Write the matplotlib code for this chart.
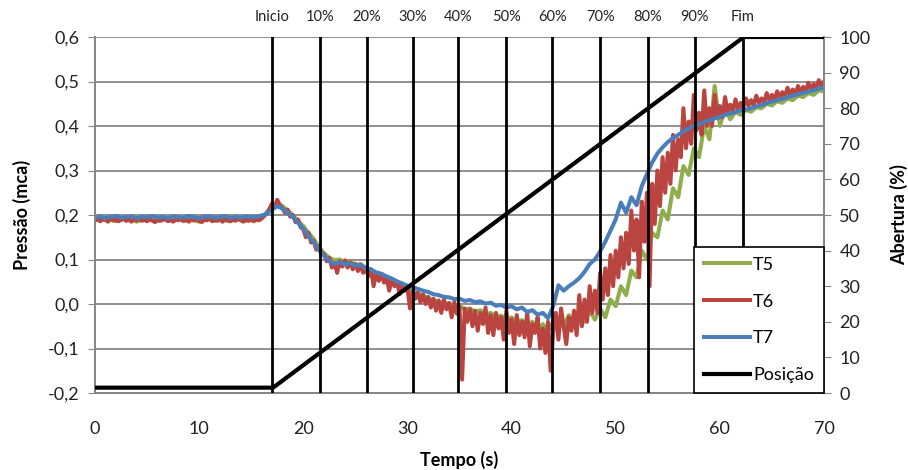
import numpy as np
import matplotlib
matplotlib.use("Agg")
import matplotlib.pyplot as plt
import matplotlib.transforms as mtransforms

plt.rcParams['font.family'] = ['Lato', 'DejaVu Sans']

# ---------------- data ----------------
# T5 and T7 sampled every 0.5 s (0..70 s), T6 every 0.25 s
T5 = [
    0.190, 0.187, 0.192, 0.189, 0.186, 0.191, 0.188, 0.190, 0.185, 0.189,   # 0-4.5
    0.192, 0.188, 0.186, 0.190, 0.189, 0.187, 0.191, 0.186, 0.190, 0.188,   # 5-9.5
    0.185, 0.189, 0.191, 0.187, 0.190, 0.188, 0.186, 0.192, 0.189, 0.187,   # 10-14.5
    0.190, 0.188, 0.193, 0.204,                                             # 15-16.5
    0.218, 0.226, 0.220, 0.210, 0.200, 0.186, 0.175, 0.160, 0.146, 0.128,   # 17-21.5
    0.114, 0.104, 0.098, 0.100, 0.094, 0.096, 0.088, 0.090, 0.080, 0.076,   # 22-26.5
    0.070, 0.064, 0.058, 0.050, 0.046, 0.038, 0.034, 0.028, 0.024, 0.018,   # 27-31.5
    0.014, 0.008, 0.006, 0.000, 0.002, -0.006, -0.004, -0.012, -0.010, -0.018,  # 32-36.5
    -0.014, -0.024, -0.020, -0.030, -0.026, -0.036, -0.030, -0.042, -0.036, -0.048,  # 37-41.5
    -0.040, -0.056, -0.045, -0.062, -0.040, -0.030, -0.050, -0.025, -0.045, -0.020,  # 42-46.5
    -0.040, -0.015, -0.035, -0.010, -0.030, 0.010, -0.005, 0.040, 0.020, 0.075,     # 47-51.5
    0.060, 0.120, 0.100, 0.160, 0.150, 0.210, 0.190, 0.260, 0.240, 0.310,   # 52-56.5
    0.290, 0.350, 0.330, 0.400, 0.370, 0.490, 0.400, 0.440, 0.415, 0.432,   # 57-61.5
    0.425, 0.436, 0.432, 0.442, 0.440, 0.450, 0.446, 0.456, 0.452, 0.462,   # 62-66.5
    0.458, 0.468, 0.465, 0.474, 0.470, 0.480, 0.478,                        # 67-70
]

T6 = [
    0.188, 0.192, 0.186, 0.191, 0.189, 0.185, 0.192, 0.188,   # 0-1.75
    0.190, 0.186, 0.189, 0.193, 0.187, 0.190, 0.185, 0.191,   # 2-3.75
    0.188, 0.192, 0.187, 0.189, 0.186, 0.190, 0.188, 0.184,   # 4-5.75
    0.191, 0.187, 0.189, 0.192, 0.186, 0.189, 0.185, 0.190,   # 6-7.75
    0.188, 0.193, 0.187, 0.189, 0.185, 0.190, 0.188, 0.191,   # 8-9.75
    0.187, 0.184, 0.190, 0.188, 0.192, 0.186, 0.189, 0.187,   # 10-11.75
    0.190, 0.185, 0.191, 0.188, 0.186, 0.190, 0.187, 0.192,   # 12-13.75
    0.188, 0.185, 0.190, 0.187, 0.189, 0.186, 0.191, 0.188,   # 14-15.75
    0.192, 0.198, 0.205, 0.214, 0.226, 0.218, 0.234, 0.222,   # 16-17.75
    0.215, 0.205, 0.212, 0.196, 0.200, 0.184, 0.190, 0.172,   # 18-19.75
    0.168, 0.150, 0.160, 0.138, 0.142, 0.122, 0.130, 0.110,   # 20-21.75
    0.112, 0.096, 0.104, 0.082, 0.092, 0.070, 0.096, 0.084,   # 22-23.75
    0.098, 0.082, 0.094, 0.078, 0.090, 0.074, 0.088, 0.070,   # 24-25.75
    0.082, 0.062, 0.078, 0.040, 0.070, 0.052, 0.066, 0.048,   # 26-27.75
    0.060, 0.030, 0.056, 0.040, 0.050, 0.022, 0.046, 0.030,   # 28-29.75
    0.036, -0.010, 0.030, 0.012, 0.026, 0.004, 0.022, 0.000,  # 30-31.75
    0.016, -0.008, 0.012, -0.015, 0.008, -0.020, 0.010, -0.012,  # 32-33.75
    0.002, -0.030, 0.004, -0.022, -0.005, -0.170, -0.010, -0.040,  # 34-35.75
    -0.012, -0.050, -0.015, -0.060, -0.020, -0.045, -0.008, -0.065,  # 36-37.75
    -0.025, -0.070, -0.020, -0.055, -0.030, -0.080, -0.015, -0.065,  # 38-39.75
    -0.035, -0.090, -0.025, -0.070, -0.040, -0.075, -0.020, -0.095,  # 40-41.75
    -0.045, -0.065, -0.030, -0.100, -0.055, -0.110, -0.040, -0.150,  # 42-43.75
    -0.060, -0.020, -0.080, -0.010, -0.050, -0.090, -0.030, -0.060,  # 44-45.75
    -0.015, -0.070, 0.020, -0.050, 0.010, -0.040, 0.040, -0.020,     # 46-47.75
    0.030, -0.020, 0.070, 0.010, 0.080, 0.020, 0.110, 0.040,         # 48-49.75
    0.120, 0.060, 0.150, 0.080, 0.160, 0.090, 0.210, 0.120,          # 50-51.75
    0.190, 0.060, 0.230, 0.140, 0.250, 0.040, 0.270, 0.180,          # 52-53.75
    0.300, 0.220, 0.330, 0.250, 0.340, 0.270, 0.380, 0.300,          # 54-55.75
    0.370, 0.330, 0.440, 0.350, 0.410, 0.360, 0.470, 0.390,          # 56-57.75
    0.430, 0.380, 0.480, 0.400, 0.440, 0.400, 0.470, 0.420,          # 58-59.75
    0.445, 0.420, 0.465, 0.430, 0.448, 0.432, 0.460, 0.438,          # 60-61.75
    0.452, 0.440, 0.462, 0.446, 0.458, 0.446, 0.468, 0.452,          # 62-63.75
    0.462, 0.452, 0.474, 0.458, 0.470, 0.458, 0.478, 0.464,          # 64-65.75
    0.476, 0.466, 0.486, 0.470, 0.482, 0.470, 0.490, 0.476,          # 66-67.75
    0.488, 0.478, 0.497, 0.482, 0.494, 0.484, 0.503, 0.490,          # 68-69.75
    0.500,                                                           # 70
]

T7 = [
    0.194, 0.197, 0.193, 0.196, 0.198, 0.194, 0.195, 0.197, 0.193, 0.196,   # 0-4.5
    0.195, 0.198, 0.194, 0.196, 0.193, 0.197, 0.195, 0.194, 0.198, 0.195,   # 5-9.5
    0.193, 0.196, 0.197, 0.194, 0.195, 0.198, 0.193, 0.196, 0.194, 0.197,   # 10-14.5
    0.195, 0.196, 0.199, 0.203,                                             # 15-16.5
    0.212, 0.220, 0.214, 0.205, 0.196, 0.182, 0.170, 0.152, 0.138, 0.122,   # 17-21.5
    0.108, 0.096, 0.090, 0.094, 0.089, 0.092, 0.086, 0.088, 0.080, 0.078,   # 22-26.5
    0.071, 0.068, 0.062, 0.057, 0.051, 0.046, 0.041, 0.038, 0.034, 0.030,   # 27-31.5
    0.027, 0.022, 0.020, 0.016, 0.015, 0.011, 0.012, 0.007, 0.009, 0.004,   # 32-36.5
    0.006, 0.001, 0.003, -0.004, -0.002, -0.008, -0.005, -0.012, -0.008, -0.018,  # 37-41.5
    -0.014, -0.024, -0.020, -0.032, -0.005, 0.042, 0.030, 0.040, 0.048, 0.058,   # 42-46.5
    0.072, 0.090, 0.100, 0.118, 0.140, 0.165, 0.190, 0.228, 0.205, 0.240,   # 47-51.5
    0.222, 0.265, 0.292, 0.318, 0.338, 0.352, 0.364, 0.373, 0.380, 0.388,   # 52-56.5
    0.394, 0.400, 0.404, 0.409, 0.413, 0.417, 0.420, 0.425, 0.428, 0.431,   # 57-61.5
    0.435, 0.437, 0.440, 0.444, 0.447, 0.451, 0.455, 0.458, 0.461, 0.465,   # 62-66.5
    0.468, 0.471, 0.474, 0.477, 0.480, 0.484, 0.487,                        # 67-70
]

POS_T = [0.0, 17.1, 62.3, 70.0]
POS_V = [1.5, 1.5, 100.0, 100.0]

MARK_T = [17.0, 21.6, 26.1, 30.5, 34.9, 39.5, 43.9, 48.5, 53.1, 57.6, 62.2]
MARK_LBL = ['Inicio', '10%', '20%', '30%', '40%', '50%', '60%', '70%', '80%', '90%', 'Fim']

X_TICKS = [0, 10, 20, 30, 40, 50, 60, 70]
P_TICKS = [-0.2, -0.1, 0.0, 0.1, 0.2, 0.3, 0.4, 0.5, 0.6]
P_TICK_LBL = ['-0,2', '-0,1', '0,0', '0,1', '0,2', '0,3', '0,4', '0,5', '0,6']
A_TICKS = [0, 10, 20, 30, 40, 50, 60, 70, 80, 90, 100]

assert len(T5) == 141 and len(T7) == 141 and len(T6) == 281

t5 = np.linspace(0, 70, len(T5))
t6 = np.linspace(0, 70, len(T6))
t7 = np.linspace(0, 70, len(T7))

# ---------------- plot ----------------
C5, C6, C7 = '#8FAD4C', '#BA4540', '#4A7EBB'
GRID = '#868686'

fig = plt.figure(figsize=(9.08, 4.70), dpi=100)
ax = fig.add_axes([95 / 908, 77 / 470, 729 / 908, 356 / 470])
ax2 = ax.twinx()

ax.set_xlim(0, 70)
ax.set_ylim(-0.2, 0.6)
ax2.set_ylim(0, 100)

ax.set_yticks(P_TICKS)
ax.set_yticklabels(P_TICK_LBL)
ax.set_xticks(X_TICKS)
ax2.set_yticks(A_TICKS)

ax.grid(axis='y', color=GRID, lw=1.3)
ax.set_axisbelow(True)

for a in (ax, ax2):
    for s in a.spines.values():
        s.set_color(GRID)
        s.set_linewidth(1.3)
    a.spines['top'].set_visible(False)

ax.tick_params(axis='y', direction='out', length=5, color=GRID, labelsize=13, pad=6, labelcolor='#222222')
ax.tick_params(axis='x', length=0, labelsize=13, pad=20, labelcolor='#222222')
ax2.tick_params(axis='y', direction='out', length=5, color=GRID, labelsize=13, pad=6, labelcolor='#222222')

lw = 2.9
l5, = ax.plot(t5, T5, color=C5, lw=lw, label='T5', zorder=3)
l6, = ax.plot(t6, T6, color=C6, lw=lw, label='T6', zorder=4)
l7, = ax.plot(t7, T7, color=C7, lw=lw, label='T7', zorder=5)

for tm in MARK_T:
    ax2.axvline(tm, color='black', lw=2.0, zorder=6)

lp, = ax2.plot(POS_T, POS_V, color='black', lw=3.0, label='Posição', zorder=7)

trans = mtransforms.blended_transform_factory(ax.transData, ax.transAxes)
for tm, lb in zip(MARK_T, MARK_LBL):
    ax.text(tm, 1.055, lb, transform=trans, ha='center', va='center', fontsize=10.5, color='#222222')

ax.set_xlabel('Tempo (s)', fontsize=13, fontweight='bold', labelpad=10)
ax.set_ylabel('Pressão (mca)', fontsize=13, fontweight='bold', labelpad=12)
ax2.set_ylabel('Abertura (%)', fontsize=13, fontweight='bold', labelpad=14)

leg = ax2.legend(handles=[l5, l6, l7, lp], loc='lower right', bbox_to_anchor=(1.0, 0.0),
                 borderaxespad=0.0, fontsize=13, frameon=True, fancybox=False,
                 edgecolor='black', framealpha=1.0, labelspacing=1.15,
                 handlelength=2.6, handletextpad=0.15, borderpad=0.55)
leg.get_frame().set_linewidth(1.2)
leg.set_zorder(10)

fig.savefig('out.png', dpi=100)
